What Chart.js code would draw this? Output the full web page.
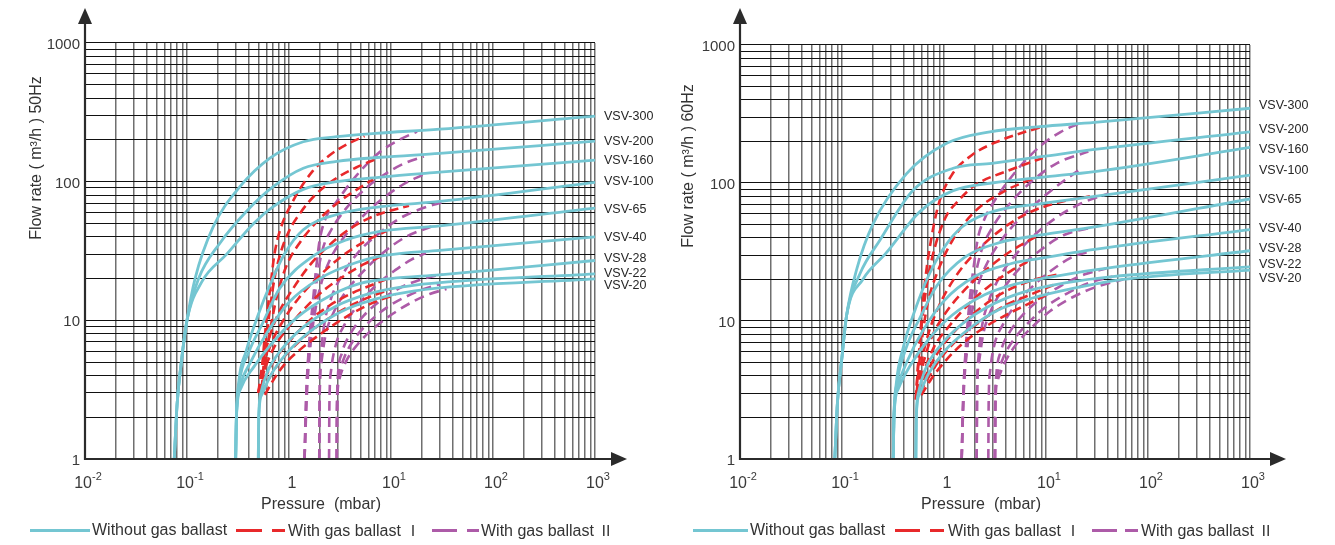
<!DOCTYPE html>
<html><head><meta charset="utf-8">
<script src="https://cdn.jsdelivr.net/npm/chart.js@4.4.0/dist/chart.umd.min.js"></script>
<style>
html,body{margin:0;padding:0;background:#fff;}
body{width:1335px;height:545px;position:relative;overflow:hidden;font-family:'Liberation Sans',Arial,sans-serif;}
canvas{position:absolute;left:0;top:0;}
.lg{position:absolute;top:520px;font-size:16px;color:#333;white-space:nowrap;line-height:20px;}
.lg span{font-family:'Noto Sans CJK SC',sans-serif;font-size:15px;}
.ln{position:absolute;top:529px;height:3px;}
</style></head><body>
<canvas id="c50" width="1335" height="545"></canvas>
<canvas id="c60" width="1335" height="545"></canvas>
<div id="legend"></div>
<script>
// pump curves (pressure mbar -> flow m3/h)
const MODELS=['VSV-300','VSV-200','VSV-160','VSV-100','VSV-65','VSV-40','VSV-28','VSV-22','VSV-20'];
const X_TICKS=[0.01,0.1,1,10,100,1000];
const X_TICK_EXP=['-2','-1','','1','2','3'];
const Y_TICKS=[1,10,100,1000];
const Y_TICK_LABELS=['1','10','100','1000'];

// 50Hz, without gas ballast
const plain50=[
 [[0.075,1],[0.08,2.5],[0.088,5],[0.1,10],[0.12,20],[0.18,47],[0.33,92],[0.65,148],[1.38,194],[2.94,211],[7,223],[30,239],[1000,297]],
 [[0.075,1],[0.08,2.5],[0.088,5],[0.1,10],[0.13,20],[0.21,36],[0.39,62],[0.7,92],[1.38,125],[2.94,140],[8,150],[30,160],[1000,196]],
 [[0.075,1],[0.08,2.5],[0.088,5],[0.1,10],[0.14,19],[0.245,30],[0.45,50],[0.7,66],[1.38,88],[2.94,100],[8,108],[30,117],[1000,143]],
 [[0.3,1],[0.305,2],[0.32,3.5],[0.38,6],[0.5,11],[0.65,18],[0.9,30],[1.38,45],[2.94,58],[8,66],[30,72],[1000,99]],
 [[0.3,1],[0.305,2],[0.325,3.5],[0.4,5.8],[0.55,9.5],[0.81,17],[1.72,29],[3.65,38],[8,44],[30,48],[1000,64.5]],
 [[0.3,1],[0.305,2],[0.33,3.3],[0.42,5],[0.6,8],[1,13.5],[2,20],[4.5,26],[9,29.5],[30,32],[1000,40]],
 [[0.3,1],[0.305,2],[0.335,3.2],[0.45,4.6],[0.7,7],[1.2,10.5],[2.5,15],[5,18.5],[10,20],[30,21.3],[1000,27]],
 [[0.5,1],[0.505,2],[0.53,3],[0.62,4.3],[0.85,6.2],[1.4,9],[2.8,12.5],[6,15.5],[16,17.8],[1000,21.6]],
 [[0.5,1],[0.505,2],[0.54,2.9],[0.66,4],[0.95,5.8],[1.6,8.3],[3.2,11.5],[7,14.2],[17,16.3],[1000,19.9]]
];
// 50Hz, gas ballast I
const gb1_50=[
 [[0.52,3],[0.55,5],[0.6,10],[0.66,18],[0.72,30],[0.82,45],[1.1,73],[1.72,120],[2.5,155],[3.65,185],[5.5,213]],
 [[0.54,3.2],[0.58,6],[0.64,11],[0.72,20],[0.82,30],[1,44],[1.3,60],[1.8,80],[2.8,104],[4.5,126],[7,145]],
 [[0.56,3.5],[0.61,6],[0.68,10],[0.78,16],[0.95,25],[1.3,37],[2,54],[3.2,73],[5,91],[6.7,104]],
 [[0.5,3],[0.55,4.8],[0.64,7.5],[0.8,11.5],[1.1,17],[1.6,25],[2.5,35],[4,46],[7,57],[15,67]],
 [[0.5,3],[0.56,4.5],[0.67,6.8],[0.88,10],[1.25,14.5],[2,21],[3.2,28.5],[5.5,37],[9,44]],
 [[0.5,3],[0.57,4.3],[0.7,6.2],[0.95,8.6],[1.4,12],[2.2,16.5],[3.5,21],[5.5,25.5],[8,29]],
 [[0.52,3],[0.6,4],[0.75,5.4],[1.05,7.3],[1.6,10],[2.5,12.8],[4,15.5],[6.5,18],[9,19.8]],
 [[0.55,3],[0.65,3.9],[0.85,5.2],[1.2,6.8],[1.8,8.8],[2.8,11],[4.5,13.3],[7,15.3],[10,16.8]],
 [[0.58,2.9],[0.7,3.7],[0.9,4.8],[1.3,6.2],[2,7.9],[3,9.7],[4.5,11.6],[7,13.6],[11,15.3]]
];
// 50Hz, gas ballast II
const gb2_50=[
 [[1.42,1],[1.48,3],[1.58,7],[1.72,14],[1.86,25],[2,38],[2.3,55],[2.94,72],[4.6,111],[7.8,164],[12,200],[18,230]],
 [[1.42,1],[1.48,3],[1.6,7],[1.75,13],[1.92,22],[2.15,33],[2.6,45],[3.5,62],[5.5,88],[9,115],[14,137],[21,152]],
 [[1.42,1],[1.5,3],[1.62,6.5],[1.8,11.5],[2.05,18],[2.5,27],[3.3,38],[5,54],[8,74],[13,95],[21,113]],
 [[1.98,1],[2,3],[2.06,5.5],[2.2,9],[2.55,14],[3.3,21],[4.8,31],[7.5,42],[12,54],[20,64],[32,71]],
 [[1.98,1],[2,3],[2.08,5],[2.28,7.8],[2.75,11.5],[3.7,16.5],[5.5,23],[8.5,31],[14,40],[26,48]],
 [[2.47,1],[2.49,2.5],[2.58,4.3],[2.85,6.5],[3.5,9.3],[4.8,13],[7.2,18],[11,23],[16,27.5],[22,30.5]],
 [[2.94,1],[2.96,2.5],[3.02,4],[3.3,5.8],[4,8],[5.4,10.8],[8,14],[12,17],[20,19.8],[32,21.5]],
 [[2.94,1],[2.96,2.5],[3.06,3.9],[3.45,5.3],[4.3,7.2],[6,9.6],[9,12.3],[14,14.8],[21,16.8],[30,18.2]],
 [[2.94,1],[2.97,2.5],[3.1,3.7],[3.6,5],[4.7,6.7],[6.8,8.8],[10.5,11.2],[16,13.5],[24,15.5],[35,16.8]]
];

// 60Hz, without gas ballast
const plain60=[
 [[0.085,1],[0.09,2.5],[0.1,5.5],[0.111,11],[0.14,24],[0.2,50],[0.43,117],[1.06,194],[2.82,235],[8.7,256],[30,275],[1000,348]],
 [[0.085,1],[0.09,2.5],[0.1,5.5],[0.111,11],[0.15,22],[0.236,38.6],[0.5,89],[1.23,128],[2.94,139],[9,155],[30,175],[1000,235]],
 [[0.085,1],[0.09,2.5],[0.1,5.5],[0.111,11],[0.16,20],[0.27,31],[0.58,62],[1.23,88],[2.94,100],[9,110],[30,121],[1000,181]],
 [[0.318,1],[0.323,2],[0.34,3.5],[0.4,6.5],[0.52,12],[0.7,21],[1,34],[1.5,48],[3,62],[9,71],[30,80],[1000,114]],
 [[0.318,1],[0.323,2],[0.345,3.5],[0.42,6.2],[0.58,10.5],[0.85,18],[1.6,29],[3.5,37],[9,42],[30,48],[1000,76.6]],
 [[0.318,1],[0.323,2],[0.35,3.3],[0.44,5.2],[0.62,8.5],[1,14],[2,21],[4.5,26],[9,28.5],[30,33],[1000,46]],
 [[0.318,1],[0.323,2],[0.355,3.2],[0.47,4.8],[0.72,7.5],[1.2,11],[2.5,15.5],[5,18.5],[10,20.5],[30,23.5],[1000,32.3]],
 [[0.53,1],[0.535,2],[0.56,3],[0.65,4.4],[0.9,6.5],[1.5,9.5],[3,13.2],[6,16.2],[16,19],[45,21],[1000,24.7]],
 [[0.53,1],[0.535,2],[0.57,2.9],[0.7,4.1],[1,6],[1.7,8.6],[3.4,12],[7,14.5],[17,17],[57,20],[1000,23.4]]
];
// 60Hz, gas ballast I
const gb1_60=[
 [[0.53,2.7],[0.56,5],[0.6,10],[0.65,19],[0.72,33],[0.88,69],[1.19,114],[1.87,159],[3.6,204],[8.7,253]],
 [[0.53,2.7],[0.56,5],[0.6,9],[0.66,16],[0.75,27],[1.02,55],[1.4,75],[2,96],[4.27,123],[9.3,152]],
 [[0.54,3],[0.58,5.5],[0.63,9],[0.7,14],[0.85,22],[1.2,38],[2,62],[4,88],[7.5,108]],
 [[0.54,3],[0.6,5],[0.7,8],[0.9,13],[1.3,21],[2,31],[3.5,45],[6.5,60],[13,72],[27,80]],
 [[0.54,3],[0.62,4.8],[0.75,7.5],[1,11],[1.5,16],[2.5,23],[4.5,32],[8.1,41]],
 [[0.55,3],[0.65,4.5],[0.8,6.5],[1.1,9],[1.7,13],[2.8,18],[4.5,23],[7.2,27.8]],
 [[0.56,3],[0.68,4.2],[0.88,6],[1.25,8.3],[2,11.5],[3.5,15.5],[7,19.5],[14,22]],
 [[0.58,3],[0.72,4],[0.95,5.5],[1.4,7.5],[2.3,10],[4,13],[7,15.5],[12,18.3]],
 [[0.6,2.9],[0.75,3.8],[1,5],[1.5,6.8],[2.5,9],[4.5,11.5],[7,13.5],[10,15.4]]
];
// 60Hz, gas ballast II
const gb2_60=[
 [[1.49,1],[1.55,3],[1.65,7],[1.8,15],[2,28],[2.15,40],[2.5,55],[2.94,69],[5,120],[9,188],[14,235],[21,270]],
 [[1.49,1],[1.55,3],[1.67,7],[1.83,13],[2.05,22],[2.35,33],[3,48],[4.5,72],[7.5,105],[13,140],[26,169]],
 [[1.49,1],[1.56,3],[1.7,6.5],[1.88,11.5],[2.15,18],[2.7,27],[3.6,38],[5.5,55],[9,77],[14,100],[21,124]],
 [[2.09,1],[2.11,3],[2.18,5.5],[2.35,9],[2.75,14],[3.6,21.5],[5.2,31],[8,43],[13,57],[22,71],[41,84]],
 [[2.09,1],[2.11,3],[2.2,5],[2.42,8],[2.9,12],[3.9,17.5],[5.8,25],[9,33],[15,42],[30,48]],
 [[2.72,1],[2.74,2.5],[2.83,4.3],[3.1,6.6],[3.8,9.5],[5.2,13.5],[7.8,18.5],[12,24],[18,29],[25,31.5]],
 [[3.16,1],[3.18,2.5],[3.25,4],[3.6,6],[4.4,8.3],[6,11.2],[9,14.6],[14,18],[24,21.8],[39,24]],
 [[3.16,1],[3.18,2.5],[3.3,3.9],[3.8,5.4],[4.8,7.3],[6.8,9.8],[10,12.7],[16,15.8],[27,19],[45,21]],
 [[3.16,1],[3.19,2.5],[3.35,3.7],[4,5.1],[5.2,6.9],[7.5,9.2],[11,11.8],[18,14.8],[32,17.8],[57,20]]
];

const CYAN='#74c6d2', RED='#e8292b', PURPLE='#ad5ba8';
const FONT='"Liberation Sans", Arial, sans-serif';

// grid at 1..9 of every decade
const gridVals=(lo,hi)=>{const v=[];for(let d=lo;d<hi;d*=10){for(let k=1;k<10;k++)v.push(+(d*k).toPrecision(3));}v.push(hi);return v;};

const decor={id:'decor',afterDraw(chart,args,o){
  const {ctx,chartArea:a,scales:{x,y}}=chart;
  ctx.save();
  ctx.strokeStyle='#2b2b2b';ctx.fillStyle='#2b2b2b';ctx.lineWidth=2.2;
  ctx.beginPath();
  ctx.moveTo(a.left,a.bottom+1);ctx.lineTo(a.left,o.arrowTop+14);
  ctx.moveTo(a.left-1,a.bottom);ctx.lineTo(o.arrowRight-14,a.bottom);
  ctx.stroke();
  ctx.beginPath();ctx.moveTo(a.left,o.arrowTop);ctx.lineTo(a.left-7,o.arrowTop+16);ctx.lineTo(a.left+7,o.arrowTop+16);ctx.closePath();ctx.fill();
  ctx.beginPath();ctx.moveTo(o.arrowRight,a.bottom);ctx.lineTo(o.arrowRight-16,a.bottom-7);ctx.lineTo(o.arrowRight-16,a.bottom+7);ctx.closePath();ctx.fill();
  // y tick labels
  ctx.fillStyle='#3a3a3a';ctx.font='15px '+FONT;
  ctx.textAlign='right';ctx.textBaseline='middle';
  Y_TICKS.forEach((v,i)=>ctx.fillText(Y_TICK_LABELS[i],a.left-5,y.getPixelForValue(v)+2));
  // x tick labels with exponent
  ctx.textBaseline='alphabetic';ctx.textAlign='left';
  X_TICKS.forEach((v,i)=>{
    const cx=x.getPixelForValue(v)+3, ex=X_TICK_EXP[i];
    ctx.font='16px '+FONT;
    const base=ex?'10':'1', w1=ctx.measureText(base).width;
    ctx.font='11px '+FONT;
    const w2=ex?ctx.measureText(ex).width:0;
    const sx=cx-(w1+w2)/2;
    ctx.font='16px '+FONT;ctx.fillText(base,sx,a.bottom+29);
    if(ex){ctx.font='11px '+FONT;ctx.fillText(ex,sx+w1,a.bottom+21);}
  });
  // axis titles
  ctx.fillStyle='#333';ctx.font='16px '+FONT;ctx.textAlign='center';ctx.textBaseline='middle';
  ctx.fillText('Pressure  (mbar)',o.xTitleX,a.bottom+46);
  ctx.save();ctx.translate(o.yTitleX,o.yTitleY);ctx.rotate(-Math.PI/2);ctx.fillText(o.yTitle,0,0);ctx.restore();
  // model names at right end of curves
  ctx.fillStyle='#262626';ctx.font='12.5px '+FONT;ctx.textAlign='left';
  o.ends.forEach((pts,i)=>{const p=pts[pts.length-1];ctx.fillText(MODELS[i],a.right+9,y.getPixelForValue(p[1])+o.nudge[i]);});
  ctx.restore();
}};

function mkSet(pts,color,dash,order){
  return {data:pts.map(p=>({x:p[0],y:p[1]})),borderColor:color,borderWidth:order?2.6:2.8,borderDash:dash,
    pointRadius:0,fill:false,cubicInterpolationMode:'monotone',order:order,borderCapStyle:'butt'};
}

function makeChart(id,plain,gb1,gb2,pad,deco){
  const ds=[...plain.map(p=>mkSet(p,CYAN,[],0)),...gb1.map(p=>mkSet(p,RED,[9,5],1)),...gb2.map(p=>mkSet(p,PURPLE,[10,6],2))];
  const ax=(vals,color,lw,fitKey)=>({type:'logarithmic',min:vals[0],max:vals[vals.length-1],
    afterBuildTicks:s=>{s.ticks=vals.map(v=>({value:v}));},
    afterFit:s=>{s[fitKey]=0;},
    ticks:{display:false,autoSkip:false},grid:{color:color,lineWidth:lw,drawTicks:false},border:{display:false}});
  return new Chart(document.getElementById(id),{type:'line',data:{datasets:ds},
    options:{responsive:false,animation:false,devicePixelRatio:1,events:[],
      layout:{padding:pad},
      scales:{x:ax(gridVals(0.01,1000),'#6f6f6f',1.5,'height'),y:ax(gridVals(1,1000),'#111',1.1,'width')},
      plugins:{legend:{display:false},tooltip:{enabled:false},decor:Object.assign({ends:plain},deco)}},
    plugins:[decor]});
}

makeChart('c50',plain50,gb1_50,gb2_50,{left:85,top:43,right:1335-595,bottom:545-459},
  {arrowTop:8,arrowRight:627,xTitleX:321,yTitleX:37,yTitleY:158,yTitle:'Flow rate ( m³/h ) 50Hz',nudge:[0,0,0,-1,1,1,-2,0,7]});
makeChart('c60',plain60,gb1_60,gb2_60,{left:740,top:45,right:1335-1250,bottom:545-459},
  {arrowTop:8,arrowRight:1286,xTitleX:981,yTitleX:689,yTitleY:166,yTitle:'Flow rate ( m³/h ) 60Hz',nudge:[-3,-2,2,-5,1,-1,-2,-2,8]});

// legend rows under each panel
const legendRows=[
  {cyan:[30,60],text1:92,red:[[236,26],[272,13]],text2:288,purple:[[432,25],[467,12]],text3:481},
  {cyan:[693,55],text1:750,red:[[895,25],[930,14]],text2:948,purple:[[1092,25],[1125,13]],text3:1141}
];
const LEGEND_TEXT=['Without gas ballast','With gas ballast <span>Ⅰ</span>','With gas ballast <span>Ⅱ</span>'];
const lg=document.getElementById('legend');
legendRows.forEach(r=>{
  let h=`<div class="ln" style="left:${r.cyan[0]}px;width:${r.cyan[1]}px;background:${CYAN}"></div>`;
  r.red.forEach(s=>h+=`<div class="ln" style="left:${s[0]}px;width:${s[1]}px;background:${RED}"></div>`);
  r.purple.forEach(s=>h+=`<div class="ln" style="left:${s[0]}px;width:${s[1]}px;background:${PURPLE}"></div>`);
  h+=`<div class="lg" style="left:${r.text1}px">${LEGEND_TEXT[0]}</div>`;
  h+=`<div class="lg" style="left:${r.text2}px">${LEGEND_TEXT[1]}</div>`;
  h+=`<div class="lg" style="left:${r.text3}px">${LEGEND_TEXT[2]}</div>`;
  lg.insertAdjacentHTML('beforeend',h);
});
</script></body></html>
